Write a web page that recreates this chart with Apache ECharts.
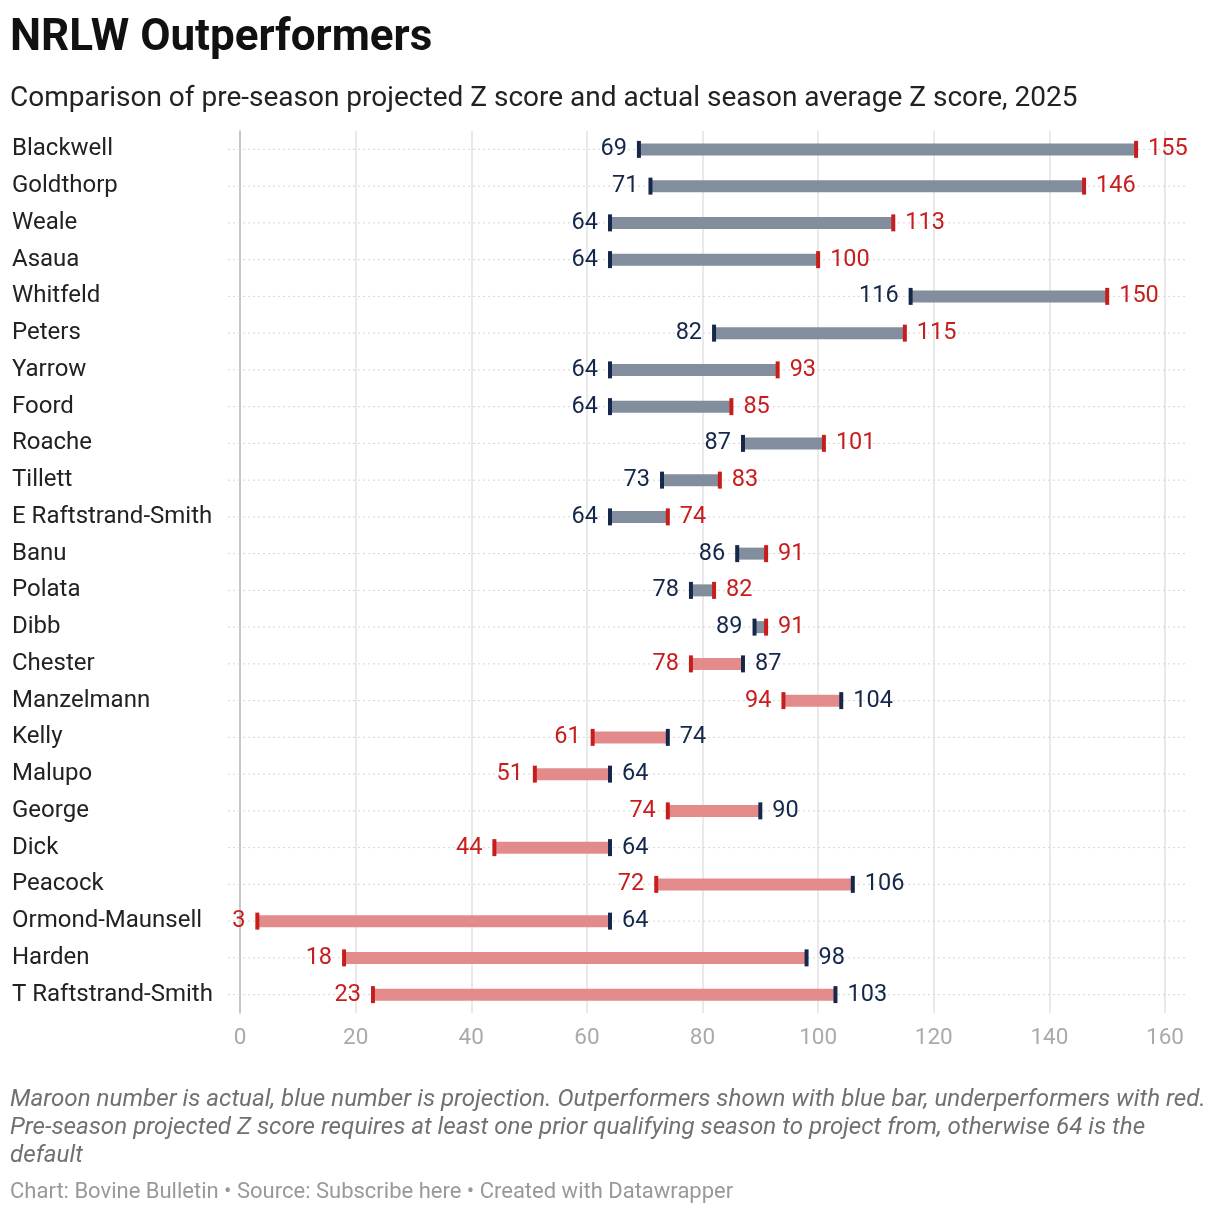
<!DOCTYPE html>
<html>
<head>
<meta charset="utf-8">
<script src="https://cdn.jsdelivr.net/npm/echarts@6/dist/echarts.min.js"></script>
<style>
  html, body { margin: 0; padding: 0; background: #fff; }
  #chart { width: 1220px; height: 1216px; }
</style>
</head>
<body>
<div id="chart"></div>
<script>
const players = ['Blackwell', 'Goldthorp', 'Weale', 'Asaua', 'Whitfeld', 'Peters', 'Yarrow', 'Foord',
  'Roache', 'Tillett', 'E Raftstrand-Smith', 'Banu', 'Polata', 'Dibb', 'Chester', 'Manzelmann',
  'Kelly', 'Malupo', 'George', 'Dick', 'Peacock', 'Ormond-Maunsell', 'Harden', 'T Raftstrand-Smith'];
const projected = [69, 71, 64, 64, 116, 82, 64, 64, 87, 73, 64, 86, 78, 89, 87, 104, 74, 64, 90, 64, 106, 64, 98, 103];
const actual = [155, 146, 113, 100, 150, 115, 93, 85, 101, 83, 74, 91, 82, 91, 78, 94, 61, 51, 74, 44, 72, 3, 18, 23];
const xTicks = [0, 20, 40, 60, 80, 100, 120, 140, 160];

const NAVY = '#15284b';
const RED = '#c71e1d';
const BAR_UP = '#828e9d';
const BAR_DOWN = '#e38b8b';
const FONT = 'Roboto';

const rows = players.map((p, i) => [i, projected[i], actual[i]]);

function renderRow(params, api) {
  const i = api.value(0);
  const proj = api.value(1);
  const act = api.value(2);
  const pP = api.coord([proj, i]);
  const pA = api.coord([act, i]);
  const y = pP[1];
  const cs = params.coordSys;
  const up = act >= proj;
  const lo = Math.min(pP[0], pA[0]);
  const hi = Math.max(pP[0], pA[0]);
  const barH = 12, tickH = 17, tickW = 4;
  const loColor = up ? NAVY : RED;
  const hiColor = up ? RED : NAVY;
  const loVal = Math.min(proj, act);
  const hiVal = Math.max(proj, act);
  return {
    type: 'group',
    children: [
      { type: 'line', shape: { x1: cs.x - 12, y1: y, x2: cs.x + cs.width + 20, y2: y },
        style: { stroke: '#d4d4d4', lineWidth: 1, lineDash: [2, 3] }, z2: 0 },
      { type: 'rect', shape: { x: lo, y: y - barH / 2, width: hi - lo, height: barH },
        style: { fill: up ? BAR_UP : BAR_DOWN }, z2: 1 },
      { type: 'rect', shape: { x: lo - tickW / 2, y: y - tickH / 2, width: tickW, height: tickH },
        style: { fill: loColor }, z2: 2 },
      { type: 'rect', shape: { x: hi - tickW / 2, y: y - tickH / 2, width: tickW, height: tickH },
        style: { fill: hiColor }, z2: 2 },
      { type: 'text', x: lo - 12, y: y,
        style: { text: String(loVal), fill: loColor, font: '23.5px ' + FONT, align: 'right', verticalAlign: 'middle' }, z2: 3 },
      { type: 'text', x: hi + 12, y: y,
        style: { text: String(hiVal), fill: hiColor, font: '23.5px ' + FONT, align: 'left', verticalAlign: 'middle' }, z2: 3 }
    ]
  };
}

const chart = echarts.init(document.getElementById('chart'), null, { renderer: 'canvas' });
chart.setOption({
  backgroundColor: '#fff',
  animation: false,
  textStyle: { fontFamily: FONT },
  title: [
    { text: 'NRLW Outperformers', left: 10, top: 17, padding: 0,
      textStyle: { fontFamily: FONT, fontSize: 44, fontWeight: 'bold', color: '#111' } },
    { text: 'Comparison of pre-season projected Z score and actual season average Z score, 2025', left: 10, top: 85, padding: 0,
      textStyle: { fontFamily: FONT, fontSize: 28, fontWeight: 'normal', color: '#222' } },
    { text: 'Maroon number is actual, blue number is projection. Outperformers shown with blue bar, underperformers with red.\nPre-season projected Z score requires at least one prior qualifying season to project from, otherwise 64 is the\ndefault',
      left: 10, top: 1086, padding: 0,
      textStyle: { fontFamily: FONT, fontSize: 24.2, fontStyle: 'italic', fontWeight: 'normal', color: '#717171', lineHeight: 28 } },
    { text: 'Chart: Bovine Bulletin \u2022 Source: Subscribe here \u2022 Created with Datawrapper', left: 10, top: 1181, padding: 0,
      textStyle: { fontFamily: FONT, fontSize: 22, fontWeight: 'normal', color: '#999' } }
  ],
  grid: { left: 240, right: 55, top: 131, bottom: 203, containLabel: false },
  xAxis: {
    type: 'value', min: 0, max: 160, interval: 20,
    axisLine: { show: false }, axisTick: { show: false },
    axisLabel: { fontFamily: FONT, fontSize: 22.5, color: '#aaa', margin: 14,
      formatter: v => xTicks.includes(v) ? String(v) : '' },
    splitLine: { show: true, lineStyle: { color: '#e2e2e2', width: 1.5 } }
  },
  yAxis: {
    type: 'category', data: players, inverse: true,
    axisLine: { show: true, lineStyle: { color: '#bbb', width: 1.5 } },
    axisTick: { show: false },
    axisLabel: { fontFamily: FONT, fontSize: 24, color: '#222', align: 'left', margin: 228 },
    splitLine: { show: false }
  },
  series: [{
    type: 'custom',
    renderItem: renderRow,
    data: rows,
    encode: { x: [1, 2], y: 0 },
    clip: false
  }]
});
</script>
</body>
</html>
